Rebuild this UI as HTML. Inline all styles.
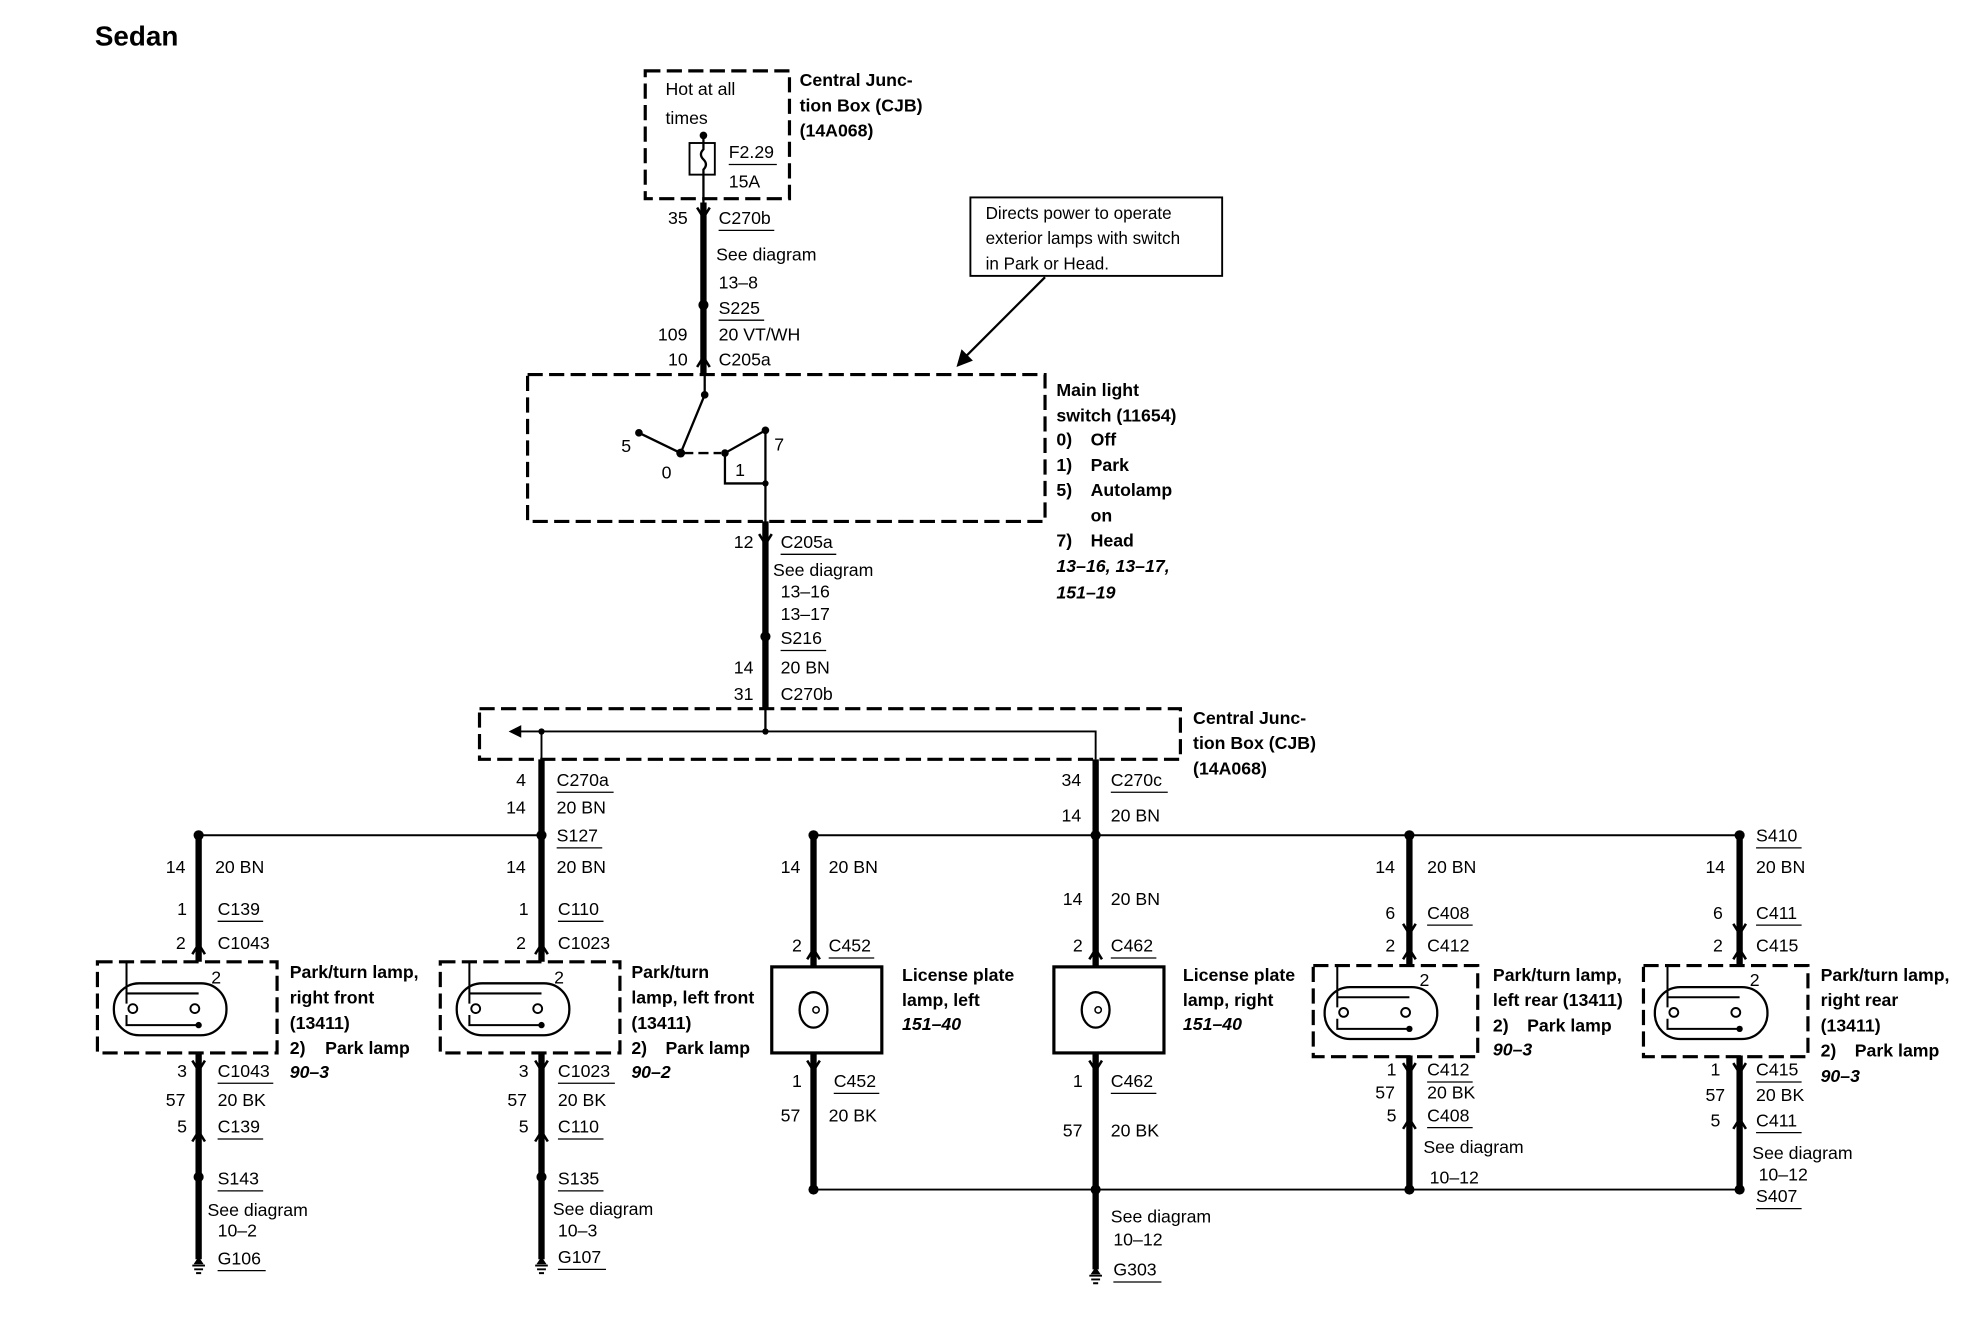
<!DOCTYPE html>
<html><head><meta charset="utf-8"><style>
html,body{margin:0;padding:0;background:#fff}
svg{display:block}
text{font-family:"Liberation Sans",Arial,sans-serif;font-size:14px;fill:#000}
.b{font-weight:bold}
.i{font-weight:bold;font-style:italic}
</style></head><body>
<svg width="1980" height="1344" viewBox="0 0 1565 1062" preserveAspectRatio="none" xmlns="http://www.w3.org/2000/svg">
<defs>
<g id="pli">
<rect x="-67" y="17" width="89" height="41" rx="20" fill="none" stroke="#000" stroke-width="1.8"/>
<path d="M-57,0 V25 M-57,25 H0 M-57,25 V33 M-57,42 V50 H0" fill="none" stroke="#000" stroke-width="1.6"/>
<circle cx="-52" cy="37" r="3.5" fill="none" stroke="#000" stroke-width="1.5"/>
<circle cx="-3" cy="37" r="3.5" fill="none" stroke="#000" stroke-width="1.5"/>
<circle cx="0" cy="50" r="2.5"/>
</g>
<g id="pl">
<rect x="-80" y="0" width="142" height="72" fill="none" stroke="#000" stroke-width="2.5" stroke-dasharray="12,5"/>
<use href="#pli"/>
</g>
<g id="pl2">
<rect x="-76" y="0" width="130" height="72" fill="none" stroke="#000" stroke-width="2.5" stroke-dasharray="12,5"/>
<use href="#pli"/>
</g>
<g id="lp">
<rect x="-33" y="0" width="87" height="68" fill="none" stroke="#000" stroke-width="2.5"/>
<ellipse cx="0" cy="34" rx="11" ry="14" fill="none" stroke="#000" stroke-width="1.8"/>
<circle cx="2" cy="34" r="2.5" fill="none" stroke="#000" stroke-width="1.2"/>
</g>
<g id="gnd"><path d="M-5,0 H5 M-3.5,3 H3.5 M-2,6 H2" stroke="#000" stroke-width="1.5"/><path d="M-4,-1 L0,-7 L4,-1Z"/></g>
</defs>

<text x="75" y="36" class="b" style="font-size:22px">Sedan</text>

<rect x="510" y="56" width="114" height="101" fill="none" stroke="#000" stroke-width="2.5" stroke-dasharray="12,5"/>
<text x="526" y="75">Hot at all</text>
<text x="526" y="98">times</text>
<rect x="545" y="113" width="20" height="25" fill="none" stroke="#000" stroke-width="1.5"/>
<path d="M556,106 V118 q-4,4 0,8 q4,4 0,8 V160" fill="none" stroke="#000" stroke-width="1.8"/>
<circle cx="556" cy="107" r="3"/>
<text x="576" y="125">F2.29</text><line x1="576" y1="130" x2="614" y2="130" stroke="#000"/>
<text x="576" y="148">15A</text>
<text x="632" y="68" class="b">Central Junc-</text>
<text x="632" y="88" class="b">tion Box (CJB)</text>
<text x="632" y="108" class="b">(14A068)</text>

<path d="M556,160 V296" stroke="#000" stroke-width="5"/>
<path d="M551,164 L556,172 L561,164" fill="none" stroke="#000" stroke-width="2"/>
<path d="M551,290 L556,282 L561,290" fill="none" stroke="#000" stroke-width="2"/>
<circle cx="556" cy="241" r="4"/>
<text x="528" y="177">35</text><text x="568" y="177">C270b</text><line x1="568" y1="182" x2="612" y2="182" stroke="#000"/>
<text x="566" y="206">See diagram</text>
<text x="568" y="228">13–8</text>
<text x="568" y="248">S225</text><line x1="568" y1="253" x2="604" y2="253" stroke="#000"/>
<text x="520" y="269">109</text><text x="568" y="269">20 VT/WH</text>
<text x="528" y="289">10</text><text x="568" y="289">C205a</text>

<rect x="767" y="156" width="199" height="62" fill="none" stroke="#000" stroke-width="1.5"/>
<text x="779" y="173" style="font-size:13.5px">Directs power to operate</text>
<text x="779" y="193" style="font-size:13.5px">exterior lamps with switch</text>
<text x="779" y="213" style="font-size:13.5px">in Park or Head.</text>
<line x1="826" y1="219" x2="762" y2="283" stroke="#000" stroke-width="1.8"/>
<path d="M756,290 L760,276 L769,285Z"/>

<rect x="417" y="296" width="409" height="116" fill="none" stroke="#000" stroke-width="2.5" stroke-dasharray="12,5"/>
<path d="M557,296 V312 L538,358 M505,342 L538,358 M573,358 L605,340 M573,358 V382 H605 M605,340 V578" fill="none" stroke="#000" stroke-width="1.8"/>
<path d="M540,358 H570" stroke="#000" stroke-width="1.8" stroke-dasharray="8,4"/>
<circle cx="557" cy="312" r="3"/><circle cx="538" cy="358" r="3.5"/><circle cx="505" cy="342" r="3"/><circle cx="573" cy="358" r="3"/><circle cx="605" cy="340" r="3"/><circle cx="605" cy="382" r="2.5"/>
<text x="491" y="357">5</text><text x="523" y="378">0</text><text x="581" y="376">1</text><text x="612" y="356">7</text>
<text x="835" y="313" class="b">Main light</text>
<text x="835" y="333" class="b">switch (11654)</text>
<text x="835" y="352" class="b">0)</text><text x="862" y="352" class="b">Off</text>
<text x="835" y="372" class="b">1)</text><text x="862" y="372" class="b">Park</text>
<text x="835" y="392" class="b">5)</text><text x="862" y="392" class="b">Autolamp</text>
<text x="862" y="412" class="b">on</text>
<text x="835" y="432" class="b">7)</text><text x="862" y="432" class="b">Head</text>
<text x="835" y="452" class="i">13–16, 13–17,</text>
<text x="835" y="473" class="i">151–19</text>

<path d="M605,412 V560" stroke="#000" stroke-width="5"/>
<path d="M600,422 L605,430 L610,422" fill="none" stroke="#000" stroke-width="2"/>
<circle cx="605" cy="503" r="4"/>
<text x="580" y="433">12</text><text x="617" y="433">C205a</text><line x1="617" y1="438" x2="661" y2="438" stroke="#000"/>
<text x="611" y="455">See diagram</text>
<text x="617" y="472">13–16</text>
<text x="617" y="490">13–17</text>
<text x="617" y="509">S216</text><line x1="617" y1="514" x2="653" y2="514" stroke="#000"/>
<text x="580" y="532">14</text><text x="617" y="532">20 BN</text>
<text x="580" y="553">31</text><text x="617" y="553">C270b</text>

<rect x="379" y="560" width="554" height="40" fill="none" stroke="#000" stroke-width="2.5" stroke-dasharray="12,5"/>
<path d="M410,578 H866 V600 M428,578 V600" fill="none" stroke="#000" stroke-width="1.5"/>
<path d="M402,578 L412,573 L412,583Z"/>
<circle cx="428" cy="578" r="2.5"/><circle cx="605" cy="578" r="2.5"/>
<text x="943" y="572" class="b">Central Junc-</text>
<text x="943" y="592" class="b">tion Box (CJB)</text>
<text x="943" y="612" class="b">(14A068)</text>

<path d="M428,600 V660 M866,600 V660" stroke="#000" stroke-width="5"/>
<text x="408" y="621">4</text><text x="440" y="621">C270a</text><line x1="440" y1="626" x2="485" y2="626" stroke="#000"/>
<text x="400" y="643">14</text><text x="440" y="643">20 BN</text>
<text x="440" y="665">S127</text><line x1="440" y1="670" x2="476" y2="670" stroke="#000"/>
<text x="839" y="621">34</text><text x="878" y="621">C270c</text><line x1="878" y1="626" x2="923" y2="626" stroke="#000"/>
<text x="839" y="649">14</text><text x="878" y="649">20 BN</text>
<line x1="157" y1="660" x2="428" y2="660" stroke="#000" stroke-width="1.5"/>
<line x1="643" y1="660" x2="1375" y2="660" stroke="#000" stroke-width="1.5"/>
<line x1="643" y1="940" x2="1375" y2="940" stroke="#000" stroke-width="1.5"/>
<text x="1388" y="665">S410</text><line x1="1388" y1="670" x2="1424" y2="670" stroke="#000"/>

<path d="M157,660 V760 M157,832 V995 M428,660 V760 M428,832 V995 M643,660 V764 M643,832 V940 M866,660 V764 M866,832 V1003 M1114,660 V764 M1114,834 V940 M1375,660 V764 M1375,834 V940" stroke="#000" stroke-width="5"/>
<g fill="#000">
<circle cx="157" cy="660" r="4"/><circle cx="428" cy="660" r="4"/><circle cx="643" cy="660" r="4"/><circle cx="866" cy="660" r="4"/><circle cx="1114" cy="660" r="4"/><circle cx="1375" cy="660" r="4"/>
<circle cx="643" cy="940" r="4"/><circle cx="866" cy="940" r="4"/><circle cx="1114" cy="940" r="4"/><circle cx="1375" cy="940" r="4"/>
<circle cx="157" cy="930" r="4"/><circle cx="428" cy="930" r="4"/>
</g>
<g fill="none" stroke="#000" stroke-width="2">
<path d="M152,754 L157,746 L162,754 M152,838 L157,846 L162,838 M152,902 L157,894 L162,902"/>
<path d="M423,754 L428,746 L433,754 M423,838 L428,846 L433,838 M423,902 L428,894 L433,902"/>
<path d="M638,758 L643,750 L648,758 M638,838 L643,846 L648,838"/>
<path d="M861,758 L866,750 L871,758 M861,838 L866,846 L871,838"/>
<path d="M1109,730 L1114,738 L1119,730 M1109,758 L1114,750 L1119,758 M1109,840 L1114,848 L1119,840 M1109,892 L1114,884 L1119,892"/>
<path d="M1370,730 L1375,738 L1380,730 M1370,758 L1375,750 L1380,758 M1370,840 L1375,848 L1380,840 M1370,892 L1375,884 L1380,892"/>
</g>

<use href="#pl" x="157" y="760"/><use href="#pl" x="428" y="760"/>
<use href="#pl2" x="1114" y="763"/><use href="#pl2" x="1375" y="763"/>
<use href="#lp" x="643" y="764"/><use href="#lp" x="866" y="764"/>
<use href="#gnd" x="157" y="1000"/><use href="#gnd" x="428" y="1000"/><use href="#gnd" x="866" y="1008"/>
<text x="167" y="777">2</text><text x="438" y="777">2</text><text x="1122" y="779">2</text><text x="1383" y="779">2</text>

<text x="131" y="690">14</text><text x="170" y="690">20 BN</text>
<text x="140" y="723">1</text><text x="172" y="723">C139</text><line x1="172" y1="728" x2="208" y2="728" stroke="#000"/>
<text x="139" y="750">2</text><text x="172" y="750">C1043</text>
<text x="140" y="851">3</text><text x="172" y="851">C1043</text><line x1="172" y1="856" x2="216" y2="856" stroke="#000"/>
<text x="131" y="874">57</text><text x="172" y="874">20 BK</text>
<text x="140" y="895">5</text><text x="172" y="895">C139</text><line x1="172" y1="900" x2="208" y2="900" stroke="#000"/>
<text x="172" y="936">S143</text><line x1="172" y1="941" x2="208" y2="941" stroke="#000"/>
<text x="164" y="961">See diagram</text><text x="172" y="977">10–2</text>
<text x="172" y="999">G106</text><line x1="172" y1="1004" x2="210" y2="1004" stroke="#000"/>
<text x="229" y="773" class="b">Park/turn lamp,</text><text x="229" y="793" class="b">right front</text><text x="229" y="813" class="b">(13411)</text>
<text x="229" y="833" class="b">2)</text><text x="257" y="833" class="b">Park lamp</text><text x="229" y="852" class="i">90–3</text>

<text x="400" y="690">14</text><text x="440" y="690">20 BN</text>
<text x="410" y="723">1</text><text x="441" y="723">C110</text><line x1="441" y1="728" x2="477" y2="728" stroke="#000"/>
<text x="408" y="750">2</text><text x="441" y="750">C1023</text>
<text x="410" y="851">3</text><text x="441" y="851">C1023</text><line x1="441" y1="856" x2="486" y2="856" stroke="#000"/>
<text x="401" y="874">57</text><text x="441" y="874">20 BK</text>
<text x="410" y="895">5</text><text x="441" y="895">C110</text><line x1="441" y1="900" x2="477" y2="900" stroke="#000"/>
<text x="441" y="936">S135</text><line x1="441" y1="941" x2="477" y2="941" stroke="#000"/>
<text x="437" y="960">See diagram</text><text x="441" y="977">10–3</text>
<text x="441" y="998">G107</text><line x1="441" y1="1003" x2="479" y2="1003" stroke="#000"/>
<text x="499" y="773" class="b">Park/turn</text><text x="499" y="793" class="b">lamp, left front</text><text x="499" y="813" class="b">(13411)</text>
<text x="499" y="833" class="b">2)</text><text x="526" y="833" class="b">Park lamp</text><text x="499" y="852" class="i">90–2</text>

<text x="617" y="690">14</text><text x="655" y="690">20 BN</text>
<text x="626" y="752">2</text><text x="655" y="752">C452</text><line x1="655" y1="757" x2="691" y2="757" stroke="#000"/>
<text x="626" y="859">1</text><text x="659" y="859">C452</text><line x1="659" y1="864" x2="695" y2="864" stroke="#000"/>
<text x="617" y="886">57</text><text x="655" y="886">20 BK</text>
<text x="713" y="775" class="b">License plate</text><text x="713" y="795" class="b">lamp, left</text><text x="713" y="814" class="i">151–40</text>

<text x="840" y="715">14</text><text x="878" y="715">20 BN</text>
<text x="848" y="752">2</text><text x="878" y="752">C462</text><line x1="878" y1="757" x2="914" y2="757" stroke="#000"/>
<text x="848" y="859">1</text><text x="878" y="859">C462</text><line x1="878" y1="864" x2="914" y2="864" stroke="#000"/>
<text x="840" y="898">57</text><text x="878" y="898">20 BK</text>
<text x="878" y="966">See diagram</text><text x="880" y="984">10–12</text>
<text x="880" y="1008">G303</text><line x1="880" y1="1013" x2="918" y2="1013" stroke="#000"/>
<text x="935" y="775" class="b">License plate</text><text x="935" y="795" class="b">lamp, right</text><text x="935" y="814" class="i">151–40</text>

<text x="1087" y="690">14</text><text x="1128" y="690">20 BN</text>
<text x="1095" y="726">6</text><text x="1128" y="726">C408</text><line x1="1128" y1="731" x2="1164" y2="731" stroke="#000"/>
<text x="1095" y="752">2</text><text x="1128" y="752">C412</text>
<text x="1096" y="850">1</text><text x="1128" y="850">C412</text><line x1="1128" y1="855" x2="1164" y2="855" stroke="#000"/>
<text x="1087" y="868">57</text><text x="1128" y="868">20 BK</text>
<text x="1096" y="886">5</text><text x="1128" y="886">C408</text><line x1="1128" y1="891" x2="1164" y2="891" stroke="#000"/>
<text x="1125" y="911">See diagram</text><text x="1130" y="935">10–12</text>
<text x="1180" y="775" class="b">Park/turn lamp,</text><text x="1180" y="795" class="b">left rear (13411)</text>
<text x="1180" y="815" class="b">2)</text><text x="1207" y="815" class="b">Park lamp</text><text x="1180" y="834" class="i">90–3</text>

<text x="1348" y="690">14</text><text x="1388" y="690">20 BN</text>
<text x="1354" y="726">6</text><text x="1388" y="726">C411</text><line x1="1388" y1="731" x2="1424" y2="731" stroke="#000"/>
<text x="1354" y="752">2</text><text x="1388" y="752">C415</text>
<text x="1352" y="850">1</text><text x="1388" y="850">C415</text><line x1="1388" y1="855" x2="1424" y2="855" stroke="#000"/>
<text x="1348" y="870">57</text><text x="1388" y="870">20 BK</text>
<text x="1352" y="890">5</text><text x="1388" y="890">C411</text><line x1="1388" y1="895" x2="1424" y2="895" stroke="#000"/>
<text x="1385" y="916">See diagram</text><text x="1390" y="933">10–12</text>
<text x="1388" y="950">S407</text><line x1="1388" y1="955" x2="1424" y2="955" stroke="#000"/>
<text x="1439" y="775" class="b">Park/turn lamp,</text><text x="1439" y="795" class="b">right rear</text><text x="1439" y="815" class="b">(13411)</text>
<text x="1439" y="835" class="b">2)</text><text x="1466" y="835" class="b">Park lamp</text><text x="1439" y="855" class="i">90–3</text>
</svg>
</body></html>
